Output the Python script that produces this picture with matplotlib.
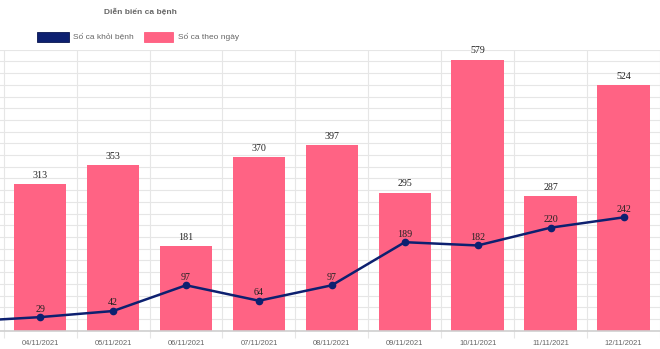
import matplotlib
matplotlib.use('Agg')
import matplotlib.pyplot as plt
from matplotlib.patches import Rectangle

# data (03/11 is only partly visible: its line point enters from the left edge)
dates = ['03/11/2021', '04/11/2021', '05/11/2021', '06/11/2021', '07/11/2021',
         '08/11/2021', '09/11/2021', '10/11/2021', '11/11/2021', '12/11/2021']
recovered = [20, 29, 42, 97, 64, 97, 189, 182, 220, 242]
daily_dates = dates[1:]
daily_cases = [313, 353, 181, 370, 397, 295, 579, 287, 524]

navy = '#0d2070'
pink = '#ff6384'
grid_c = '#e6e6e6'
sans = ['Liberation Sans', 'DejaVu Sans']
serif = ['Liberation Serif', 'DejaVu Serif']

W, H = 660, 349
fig = plt.figure(figsize=(W / 100, H / 100), dpi=100)
ax = fig.add_axes([0, (H - 330.7) / H, 1, (330.7 - 49.7) / H])

x_all = list(range(-1, len(daily_dates)))
x_bar = list(range(len(daily_dates)))

ax.bar(x_bar, daily_cases, width=0.72, color=pink, zorder=2)
ax.plot(x_all, recovered, color=navy, lw=1.8, marker='o', ms=4.5, zorder=3)

for x, v in zip(x_bar, daily_cases):
    ax.annotate(str(v), (x, v), xytext=(0, 4.5), textcoords='offset points',
                ha='center', va='baseline', fontsize=7.2, family=serif,
                color='#222', zorder=4)
for x, v in zip(x_all, recovered):
    ax.annotate(str(v), (x, v), xytext=(0, 4), textcoords='offset points',
                ha='center', va='baseline', fontsize=7.2, family=serif,
                color='#222', zorder=4)

ax.set_xlim(-0.551, 8.425)
ax.set_ylim(0, 600)
ax.set_yticks(range(0, 601, 25))
ax.set_xticks(x_bar)
ax.set_xticklabels(daily_dates, fontsize=5.5, color='#666', family=sans)
ax.set_xticks([i - 0.5 for i in range(len(daily_dates) + 1)], minor=True)
ax.tick_params(axis='x', which='major', length=0, pad=7)
ax.tick_params(axis='x', which='minor', length=5, color=grid_c, width=0.8)
ax.tick_params(axis='y', length=0, labelleft=False)
ax.grid(axis='y', color=grid_c, lw=0.8, zorder=0)
ax.grid(axis='x', which='minor', color=grid_c, lw=0.8, zorder=0)
ax.set_axisbelow(True)
for s in ['top', 'right', 'left']:
    ax.spines[s].set_visible(False)
ax.spines['bottom'].set_color('#cfcfcf')
ax.spines['bottom'].set_linewidth(1.2)


def fx(px):
    return px / W


def fy(py):
    return 1 - py / H


fig.text(fx(140.5), fy(13), 'Diễn biến ca bệnh', ha='center', va='center',
         fontsize=6, fontweight='bold', color='#666', family=sans)

fig.add_artist(Rectangle((fx(37), fy(42)), fx(32), 10 / H, transform=fig.transFigure,
                         facecolor=navy, edgecolor='#081650', lw=0.6))
fig.text(fx(73), fy(37), 'Số ca khỏi bệnh', ha='left', va='center',
         fontsize=6, color='#666', family=sans)
fig.add_artist(Rectangle((fx(144), fy(42)), fx(29), 10 / H, transform=fig.transFigure,
                         facecolor=pink, edgecolor='#ff5c7f', lw=0.6))
fig.text(fx(178), fy(37), 'Số ca theo ngày', ha='left', va='center',
         fontsize=6, color='#666', family=sans)

fig.savefig('out.png', dpi=100)
